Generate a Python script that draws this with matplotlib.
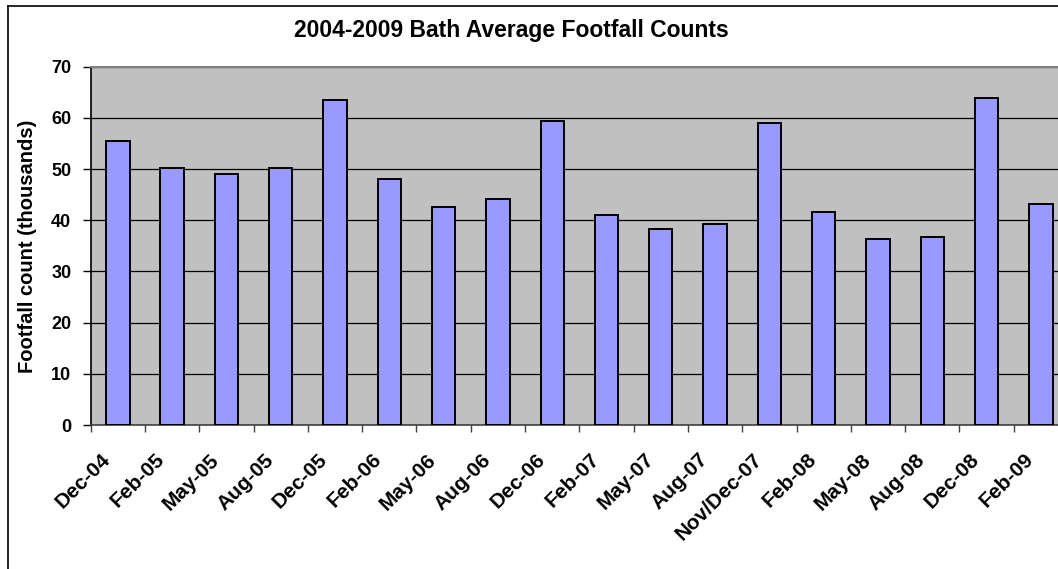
import matplotlib
matplotlib.use("Agg")
import matplotlib.pyplot as plt
from matplotlib.lines import Line2D
from matplotlib.transforms import ScaledTranslation
import numpy as np

plt.rcParams['font.family'] = ['Liberation Sans', 'DejaVu Sans']

categories = ["Dec-04", "Feb-05", "May-05", "Aug-05", "Dec-05", "Feb-06", "May-06",
              "Aug-06", "Dec-06", "Feb-07", "May-07", "Aug-07", "Nov/Dec-07", "Feb-08",
              "May-08", "Aug-08", "Dec-08", "Feb-09"]
values = [55.5, 50.3, 49.0, 50.3, 63.5, 48.0, 42.6, 44.2, 59.4, 41.0, 38.3, 39.3,
          59.0, 41.6, 36.4, 36.8, 63.8, 43.2]
yticks = [0, 10, 20, 30, 40, 50, 60, 70]

W, H = 1058, 569
fig = plt.figure(figsize=(W / 100, H / 100), dpi=100)
fig.patch.set_facecolor('white')

left, right_px, top, bottom = 90.7, 1068.0, 66.7, 425.0
ax = fig.add_axes([left / W, (H - bottom) / H, (right_px - left) / W, (bottom - top) / H])
ax.set_facecolor('#C0C0C0')

x = np.arange(len(categories))
ax.bar(x, values, width=0.43, color='#9999FF', edgecolor='black', linewidth=1.4, zorder=3)

ax.set_xlim(-0.5, len(categories) - 0.5)
ax.set_ylim(0, 70)
ax.set_yticks(yticks)
ax.set_yticklabels([str(v) for v in yticks], fontsize=13, fontweight='bold')
ax.yaxis.grid(True, color='black', linewidth=0.9, zorder=1)
ax.set_axisbelow(True)

ax.set_xticks(x)
ax.set_xticklabels(categories, rotation=45, ha='right', va='top', rotation_mode='anchor',
                   fontsize=15, fontweight='bold')
ax.tick_params(axis='x', length=0, pad=18)
offset = ScaledTranslation(-17 / 100, 0, fig.dpi_scale_trans)
for lab in ax.get_xticklabels():
    lab.set_transform(lab.get_transform() + offset)
ax.set_xticks(np.arange(-0.5, len(categories), 1.0), minor=True)
ax.tick_params(axis='x', which='minor', length=5, width=1, color='#404040', direction='out')
ax.tick_params(axis='y', length=6, width=1, color='black', direction='out', pad=8)

ax.spines['right'].set_visible(False)
ax.spines['top'].set_color('#808080')
ax.spines['top'].set_linewidth(1.5)
ax.spines['left'].set_color('black')
ax.spines['left'].set_linewidth(1.2)
ax.spines['bottom'].set_color('#404040')
ax.spines['bottom'].set_linewidth(1.2)

ax.set_ylabel('Footfall count (thousands)', fontsize=14.5, fontweight='bold', labelpad=10)

fig.text(511 / W, 1 - 31 / H, '2004-2009 Bath Average Footfall Counts', ha='center', va='center',
         fontsize=16.5, fontweight='bold')

# outer chart border (left and top visible)
fig.add_artist(Line2D([7.5 / W, 7.5 / W], [0, 1 - 6 / H], color='black', linewidth=1.2,
                      transform=fig.transFigure))
fig.add_artist(Line2D([7.5 / W, 1.0], [1 - 6 / H, 1 - 6 / H], color='black', linewidth=1.2,
                      transform=fig.transFigure))

fig.savefig('out.png', dpi=100)
